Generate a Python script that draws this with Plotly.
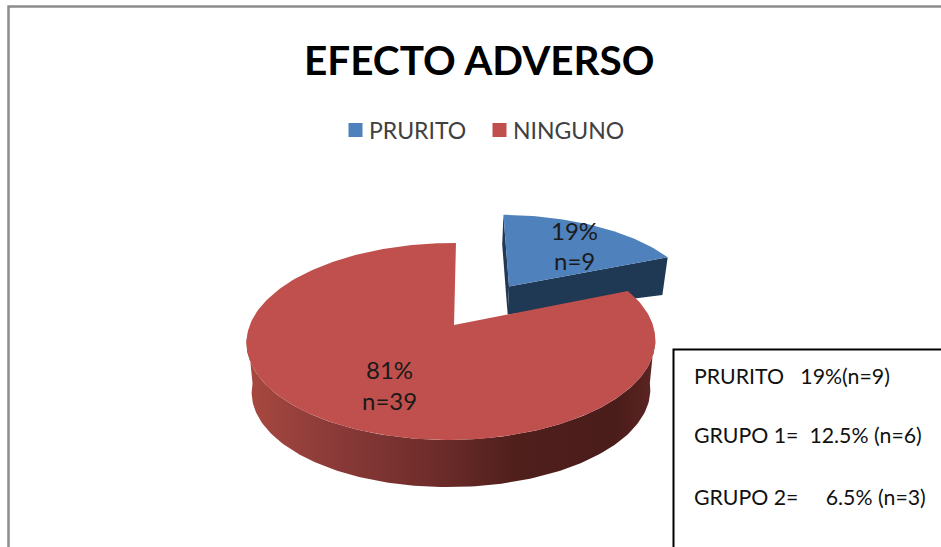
import numpy as np
import plotly.graph_objects as go

# ---- data ----
categories = ["PRURITO", "NINGUNO"]
counts = [9, 39]
percent_labels = ["19%", "81%"]
count_labels = ["n=9", "n=39"]
title_text = "EFECTO ADVERSO"
note_lines = [
    "PRURITO\u00a0\u00a0 19%(n=9)",
    "GRUPO 1=\u00a0 12.5% (n=6)",
    "GRUPO 2=\u00a0\u00a0\u00a0\u00a0 6.5% (n=3)",
]
top_colors = ["#4f81bd", "#c0504d"]
blue_wall = "#1f3853"
FONT = "Lato"

# ---- perspective projection of a tilted disc into page pixels ----
X0, Y0 = 454.0, 325.0
R, S, K, E, A = 201.5, 95.7, 0.1675, 0.013, 2.3
EXPLODE = 0.52
DEPTH, FAR = 50.0, 0.975
DEPTH_APEX, DEPTH_RIM = 27.0, 36.0


def project(u, v, depth=None):
    u, v = np.asarray(u, float), np.asarray(v, float)
    w = 1 + K * v + E * u
    x = (R * u + A * v) / w
    y = -S * v / w
    if depth is not None:
        return X0 + FAR * x, Y0 + depth + FAR * y
    return X0 + x, Y0 + y


fracs = np.array(counts) / sum(counts)
ang_blue = 2 * np.pi * fracs[0]
mid = ang_blue / 2
dx, dy = EXPLODE * np.sin(mid), EXPLODE * np.cos(mid)

th_b = np.linspace(0, ang_blue, 60)
th_r = np.linspace(ang_blue, 2 * np.pi, 240)


def add_poly(fig, x, y, **kw):
    fig.add_trace(go.Scatter(x=list(x), y=list(y), mode="lines", fill="toself",
                             line=dict(width=0), hoverinfo="skip", showlegend=False, **kw))


fig = go.Figure()

# exploded wedge: cut faces, then top
ax, ay = project([dx], [dy])
ax_b, ay_b = project([dx], [dy], DEPTH_APEX)
ox, oy = project([dx + np.sin(ang_blue)], [dy + np.cos(ang_blue)])
ox_b, oy_b = project([dx + np.sin(ang_blue)], [dy + np.cos(ang_blue)], DEPTH_RIM)
add_poly(fig, [ax[0], ox[0], ox_b[0], ax_b[0]], [ay[0], oy[0], oy_b[0], ay_b[0]], fillcolor=blue_wall)
tx, ty = project([dx], [dy + 1])
tx_b, ty_b = project([dx], [dy + 1], DEPTH_APEX)
add_poly(fig, [ax[0], tx[0], tx_b[0], ax_b[0]], [ay[0], ty[0], ty_b[0], ay_b[0]], fillcolor=blue_wall)
bx, by = project(dx + np.sin(th_b), dy + np.cos(th_b))
add_poly(fig, np.r_[ax, bx], np.r_[ay, by], fillcolor=top_colors[0])

# large slice: curved wall with gradient, then top
th_w = np.linspace(np.radians(95), np.radians(265), 160)
wx_t, wy_t = project(np.sin(th_w), np.cos(th_w))
wx_b, wy_b = project(np.sin(th_w), np.cos(th_w), DEPTH)
fig.add_trace(go.Scatter(
    x=list(np.r_[wx_t, wx_b[::-1]]), y=list(np.r_[wy_t, wy_b[::-1]]),
    mode="lines", fill="toself", line=dict(width=0), hoverinfo="skip", showlegend=False,
    fillgradient=dict(type="horizontal", start=247, stop=655,
                      colorscale=[[0, "#a8483f"], [0.2, "#8c3b39"], [0.48, "#6b2b29"],
                                  [0.66, "#4f1f1c"], [0.9, "#4a1c1a"], [1, "#5c2522"]])))
rx, ry = project(np.sin(th_r), np.cos(th_r))
cx, cy = project([0], [0])
add_poly(fig, np.r_[cx, rx], np.r_[cy, ry], fillcolor=top_colors[1])

# legend swatches and names
legend_x = [355.5, 499.5]
fig.add_trace(go.Scatter(
    x=legend_x, y=[130, 130], mode="markers",
    marker=dict(symbol="square", size=14, color=top_colors),
    hoverinfo="skip", showlegend=False))

annotations = [
    dict(x=479.5, y=59, text=f"<b>{title_text}</b>", font=dict(family=FONT, size=40.5, color="#000000"))
]
for lx, name in zip(legend_x, categories):
    annotations.append(dict(x=lx + 11, y=130, text=name, xanchor="left",
                            font=dict(family=FONT, size=23, color="#404040")))
label_pos = [(574, 230, 260), (389, 369, 400)]
for (lx, y1, y2), p, n in zip(label_pos, percent_labels, count_labels):
    annotations.append(dict(x=lx, y=y1, text=p, font=dict(family=FONT, size=24, color="#1a1a1a")))
    annotations.append(dict(x=lx, y=y2, text=n, font=dict(family=FONT, size=24, color="#1a1a1a")))
for line, y in zip(note_lines, [376, 435, 497]):
    annotations.append(dict(x=692, y=y, text=line, xanchor="left",
                            font=dict(family=FONT, size=21.3, color="#111111")))
for a in annotations:
    a.update(xref="x", yref="y", showarrow=False)
    a.setdefault("xanchor", "center")
    a["yanchor"] = "middle"

shapes = [
    dict(type="rect", xref="x", yref="y", x0=8.5, y0=6.5, x1=990, y1=600,
         line=dict(color="#8c8c8c", width=2.5), layer="below"),
    dict(type="rect", xref="x", yref="y", x0=673.5, y0=349.5, x1=990, y1=600,
         line=dict(color="#000000", width=2), fillcolor="#ffffff", layer="above"),
]

fig.update_layout(
    width=941, height=547, margin=dict(l=0, r=0, t=0, b=0),
    paper_bgcolor="#ffffff", plot_bgcolor="#ffffff", showlegend=False,
    xaxis=dict(range=[0, 941], visible=False, fixedrange=True),
    yaxis=dict(range=[547, 0], visible=False, fixedrange=True),
    annotations=annotations, shapes=shapes,
)
fig.write_html("out.html", config={"displayModeBar": False},
               post_script="document.body.style.margin='0';document.body.style.overflow='hidden';")
